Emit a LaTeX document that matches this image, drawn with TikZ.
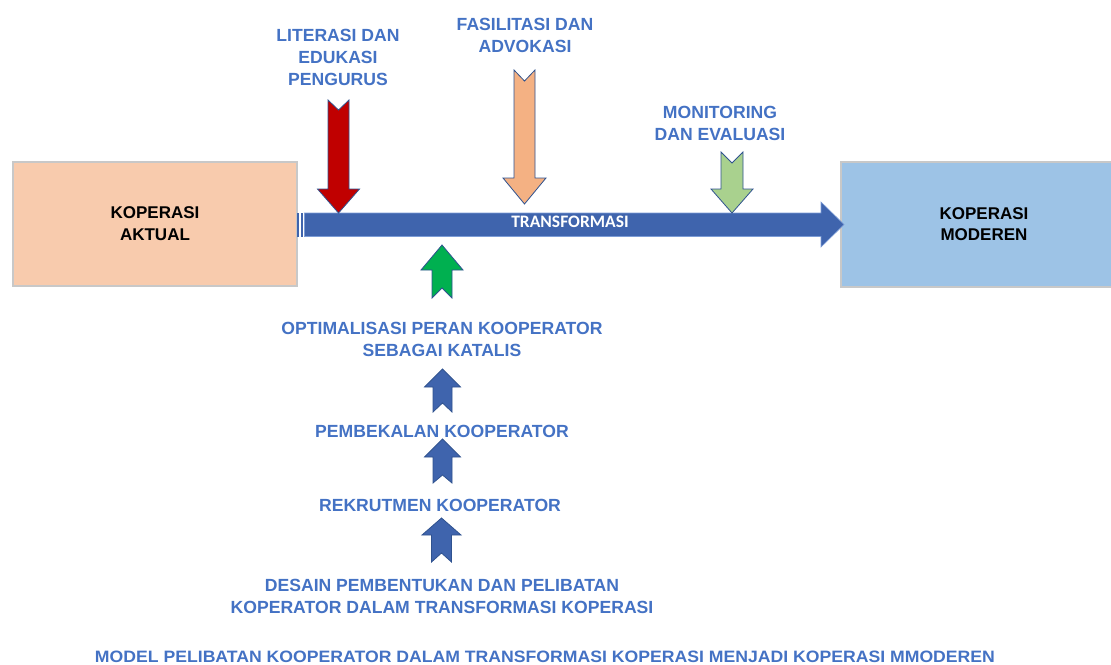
\documentclass[tikz,border=0pt]{standalone}
\usepackage{fontspec}
\setmainfont{Liberation Sans}
\newfontfamily\calfont{Carlito}
\definecolor{txtblue}{HTML}{4472C4}
\definecolor{mainblue}{HTML}{3F64AD}
\definecolor{edgeblue}{HTML}{2F528F}
\definecolor{peach}{HTML}{F8CBAD}
\definecolor{skyblue}{HTML}{9DC3E6}
\definecolor{boxgray}{HTML}{C8C8C8}
\definecolor{redfill}{HTML}{C00000}
\definecolor{orangefill}{HTML}{F4B183}
\definecolor{lgreen}{HTML}{A9D18E}
\definecolor{dgreen}{HTML}{00B050}
\newcommand\dnarrow[8]{% fill, cx, bw, hw, top, notch, headbase, tip
  \fill[#1, draw=edgeblue, line width=0.8pt, line join=miter]
    ({#2-#3},#5) -- (#2,{#5+#6}) -- ({#2+#3},#5) -- ({#2+#3},#7) -- ({#2+#4},#7)
    -- (#2,#8) -- ({#2-#4},#7) -- ({#2-#3},#7) -- cycle;}
\newcommand\uparr[8]{% fill, cx, bw, hw, bottom, notch, headbase, tip
  \fill[#1, draw=edgeblue, line width=0.8pt, line join=miter]
    ({#2-#3},#5) -- (#2,{#5-#6}) -- ({#2+#3},#5) -- ({#2+#3},#7) -- ({#2+#4},#7)
    -- (#2,#8) -- ({#2-#4},#7) -- ({#2-#3},#7) -- cycle;}
\begin{document}
\begin{tikzpicture}[x=1pt,y=-1pt,
  lbl/.style={align=center, inner sep=0pt, text=txtblue,
    font=\fontsize{17.6}{22}\selectfont\bfseries},
  bigbox/.style={draw=boxgray, line width=2.5pt, inner sep=0pt, align=center,
    font=\fontsize{17}{22}\selectfont\bfseries, text=black}]
\useasboundingbox (0,0) rectangle (1111,664);
% boxes
\node[bigbox, fill=peach, minimum width=284pt, minimum height=124pt] (aktual) at (155,224) {KOPERASI\\AKTUAL};
\node[bigbox, fill=skyblue, minimum width=290pt, minimum height=125pt] (moderen) at (986,224.5) {};
\node[align=center, inner sep=0pt, font=\fontsize{17}{21}\selectfont\bfseries] (modtxt) at (984,224) {KOPERASI\\MODEREN};
% main striped arrow
\fill[mainblue] (297,213) rectangle (299,236.5);
\fill[mainblue] (300.5,213) rectangle (303,236.5);
\fill[mainblue, draw=txtblue!70, line width=0.6pt] (304.5,213) -- (821,213) -- (821,202) -- (844,224.5)
  -- (821,247) -- (821,236.5) -- (304.5,236.5) -- cycle;
\node[inner sep=0pt, text=white, font=\fontsize{17.5}{20}\selectfont\calfont\bfseries] (trans) at (570,221.5) {TRANSFORMASI};
% down arrows
\dnarrow{redfill}{338.5}{10.5}{21}{100}{10}{189}{213}
\dnarrow{orangefill}{524.5}{10.5}{21.5}{70}{11}{178}{204}
\dnarrow{lgreen}{732}{11}{21}{152}{11}{189}{213}
% up arrows
\uparr{dgreen}{442}{10}{21}{298}{10}{270}{245}
\uparr{mainblue}{442.5}{9.5}{18}{412}{9}{387}{369}
\uparr{mainblue}{442.5}{9.5}{18}{483}{8}{457}{439}
\uparr{mainblue}{441.5}{10}{19.5}{562}{9}{535}{518}
% labels
\node[lbl] (lit) at (338,57) {LITERASI DAN\\EDUKASI\\PENGURUS};
\node[lbl] (fas) at (525,35) {FASILITASI DAN\\ADVOKASI};
\node[lbl] (mon) at (720,123.5) {MONITORING\\DAN EVALUASI};
\node[lbl] (opt) at (442,339) {OPTIMALISASI PERAN KOOPERATOR\\SEBAGAI KATALIS};
\node[lbl] (pem) at (442,431) {PEMBEKALAN KOOPERATOR};
\node[lbl] (rek) at (440,505) {REKRUTMEN KOOPERATOR};
\node[lbl] (des) at (442,596.5) {DESAIN PEMBENTUKAN DAN PELIBATAN\\KOPERATOR DALAM TRANSFORMASI KOPERASI};
\node[anchor=base, inner sep=0pt, text=txtblue, font=\bfseries] (title) at (545,662.5)
  {\resizebox{900pt}{11.5pt}{MODEL PELIBATAN KOOPERATOR DALAM TRANSFORMASI KOPERASI MENJADI KOPERASI MMODEREN}};
\end{tikzpicture}
\end{document}
